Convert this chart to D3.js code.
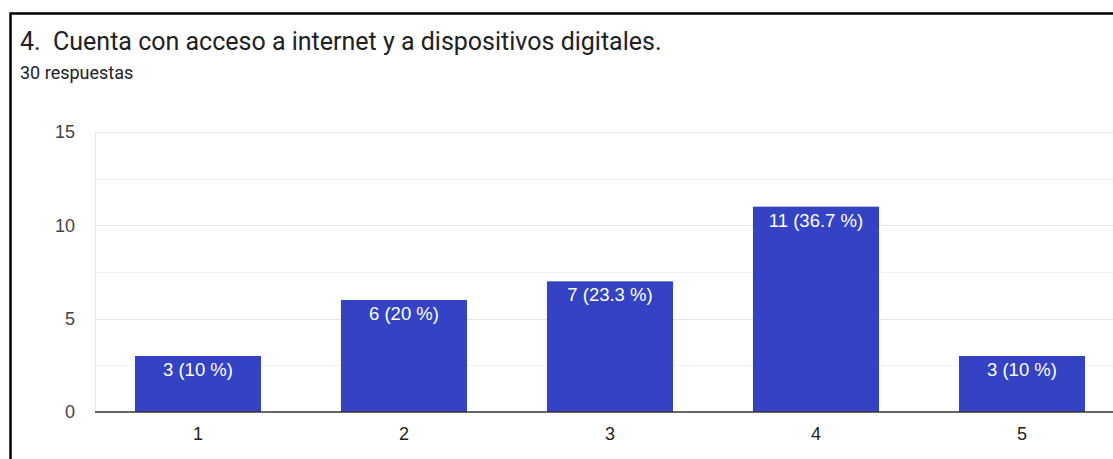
<!DOCTYPE html>
<html>
<head>
<meta charset="utf-8">
<script src="https://cdn.jsdelivr.net/npm/d3@7"></script>
<style>
  html, body { margin: 0; padding: 0; background: #fff; overflow: hidden; }
  svg { display: block; }
</style>
</head>
<body>
<div id="chart"></div>
<script>
  const categories = ['1', '2', '3', '4', '5'];
  const counts = [3, 6, 7, 11, 3];
  const labels = ['3 (10 %)', '6 (20 %)', '7 (23.3 %)', '11 (36.7 %)', '3 (10 %)'];
  const yTicks = [0, 5, 10, 15];
  const yMinor = [2.5, 7.5, 12.5];

  const width = 1113;
  const height = 459;
  const plot = { left: 95, right: 1125, top: 132, bottom: 412 };
  const labelFont = 'Arial, "Liberation Sans", sans-serif';

  const svg = d3.select('#chart')
    .append('svg')
    .attr('width', width)
    .attr('height', height);

  // card border (runs off the right and bottom edge)
  svg.append('rect')
    .attr('x', 10.5)
    .attr('y', 13.5)
    .attr('width', width + 20)
    .attr('height', height + 20)
    .attr('fill', 'none')
    .attr('stroke', '#000')
    .attr('stroke-width', 2.5);

  svg.append('text')
    .attr('x', 20)
    .attr('y', 50)
    .attr('font-family', 'Roboto, Arial, sans-serif')
    .attr('font-size', 25)
    .attr('fill', '#202124')
    .style('white-space', 'pre')
    .text('4.  Cuenta con acceso a internet y a dispositivos digitales.');

  svg.append('text')
    .attr('x', 20)
    .attr('y', 79)
    .attr('font-family', 'Roboto, Arial, sans-serif')
    .attr('font-size', 18)
    .attr('fill', '#202124')
    .text('30 respuestas');

  const x = d3.scaleBand()
    .domain(categories)
    .range([plot.left, plot.right])
    .paddingInner(0.388)
    .paddingOuter(0.194);

  const y = d3.scaleLinear()
    .domain([0, 15])
    .range([plot.bottom, plot.top]);

  // minor gridlines
  svg.append('g')
    .selectAll('line')
    .data(yMinor)
    .join('line')
    .attr('x1', plot.left)
    .attr('x2', width)
    .attr('y1', (d) => Math.round(y(d)) + 0.5)
    .attr('y2', (d) => Math.round(y(d)) + 0.5)
    .attr('stroke', '#f3f3f3')
    .attr('stroke-width', 1);

  // major gridlines
  svg.append('g')
    .selectAll('line')
    .data(yTicks.filter((d) => d > 0))
    .join('line')
    .attr('x1', plot.left)
    .attr('x2', width)
    .attr('y1', (d) => Math.round(y(d)) + 0.5)
    .attr('y2', (d) => Math.round(y(d)) + 0.5)
    .attr('stroke', '#e6e6e6')
    .attr('stroke-width', 1);

  // left edge line
  svg.append('line')
    .attr('x1', plot.left + 0.5)
    .attr('x2', plot.left + 0.5)
    .attr('y1', plot.top)
    .attr('y2', plot.bottom)
    .attr('stroke', '#e6e6e6');

  const yAxis = d3.axisLeft(y).tickValues(yTicks).tickSize(0).tickPadding(20);
  svg.append('g')
    .attr('transform', `translate(${plot.left},0)`)
    .call(yAxis)
    .call((g) => g.select('.domain').remove())
    .call((g) => g.selectAll('.tick text')
      .attr('font-family', labelFont)
      .attr('font-size', 18)
      .attr('fill', '#444'));

  svg.append('g')
    .selectAll('rect')
    .data(counts)
    .join('rect')
    .attr('x', (d, i) => x(categories[i]))
    .attr('y', (d) => y(d))
    .attr('width', x.bandwidth())
    .attr('height', (d) => y(0) - y(d))
    .attr('fill', '#3442c4');

  svg.append('g')
    .selectAll('text')
    .data(counts)
    .join('text')
    .attr('x', (d, i) => x(categories[i]) + x.bandwidth() / 2)
    .attr('y', (d) => y(d) + 20)
    .attr('text-anchor', 'middle')
    .attr('font-family', labelFont)
    .attr('font-size', 18.5)
    .attr('fill', '#fff')
    .text((d, i) => labels[i]);

  // baseline
  svg.append('line')
    .attr('x1', plot.left)
    .attr('x2', width)
    .attr('y1', y(0))
    .attr('y2', y(0))
    .attr('stroke', '#333')
    .attr('stroke-width', 1.5);

  const xAxis = d3.axisBottom(x).tickSize(0).tickPadding(15);
  svg.append('g')
    .attr('transform', `translate(0,${plot.bottom})`)
    .call(xAxis)
    .call((g) => g.select('.domain').remove())
    .call((g) => g.selectAll('.tick text')
      .attr('font-family', labelFont)
      .attr('font-size', 18)
      .attr('fill', '#222'));
</script>
</body>
</html>
